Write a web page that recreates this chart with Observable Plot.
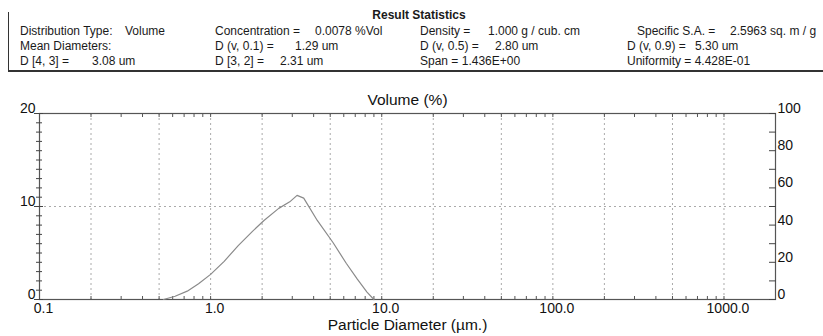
<!DOCTYPE html>
<html>
<head>
<meta charset="utf-8">
<script src="https://cdn.jsdelivr.net/npm/d3@7"></script>
<script src="https://cdn.jsdelivr.net/npm/@observablehq/plot@0.6"></script>
<style>
  html, body { margin: 0; padding: 0; background: #fff; }
  #wrap { position: relative; width: 823px; height: 336px; overflow: hidden; font-family: "Liberation Sans", Arial, sans-serif; color: #1a1a1a; }
  #header { position: absolute; left: 0; top: 0; width: 823px; height: 72px; }
  #header .box { position: absolute; left: 8px; top: 12px; width: 815px; height: 58px; border-left: 1.5px solid #333; border-bottom: 2px solid #333; }
  #header span { position: absolute; font-size: 12px; line-height: 14px; white-space: pre; }
  #header .title { font-weight: bold; transform: translateX(-50%); }
  #chart { position: absolute; left: 0; top: 72px; }
</style>
</head>
<body>
<div id="wrap">
  <div id="header"><div class="box"></div></div>
  <div id="chart"></div>
</div>
<script>
// ---- Data ----
const diameter = [0.53, 0.62, 0.73, 0.85, 1.0, 1.2, 1.45, 1.75, 2.05, 2.5, 2.9, 3.2, 3.5, 4.2, 5.2, 6.2, 7.2, 8.2, 9.0];
const volumePct = [0, 0.35, 0.9, 1.7, 2.7, 4.1, 5.8, 7.3, 8.5, 9.8, 10.5, 11.2, 10.9, 8.5, 6.1, 3.9, 2.2, 0.8, 0];

const xMajorTicks = [0.1, 1, 10, 100, 1000];
const xGridValues = [0.2, 0.5, 1, 2, 5, 10, 20, 50, 100, 200, 500, 1000];
const yLeftLabels = [0, 10, 20];
const yRightLabels = [0, 20, 40, 60, 80, 100];

const headerTitle = "Result Statistics";
const statLabels = [
  "Distribution Type:", "Concentration =", "Density =", "Specific S.A. =",
  "Mean Diameters:", "D (v, 0.1) =", "D (v, 0.5) =", "D (v, 0.9) =",
  "D [4, 3] =", "D [3, 2] =", "Span = 1.436E+00", "Uniformity = 4.428E-01"
];
const statValues = [
  "Volume", "0.0078 %Vol", "1.000 g / cub. cm", "2.5963 sq. m / g",
  "", "1.29 um", "2.80 um", "5.30 um",
  "3.08 um", "2.31 um", "", ""
];
const chartTitle = "Volume (%)";
const xLabel = "Particle Diameter (\u00b5m.)";

// ---- Header layout (positions only) ----
const labelX = [20, 215, 420, 637, 20, 215, 420, 627, 20, 215, 420, 627];
const valueX = [125, 315, 488, 730, 0, 295, 495, 695, 92, 280, 0, 0];
const rowTop = [24, 39, 54];
const header = document.getElementById("header");
const t = document.createElement("span");
t.className = "title"; t.textContent = headerTitle;
t.style.left = "419px"; t.style.top = "8px";
header.appendChild(t);
statLabels.forEach((lab, i) => {
  const r = Math.floor(i / 4);
  const s = document.createElement("span");
  s.textContent = lab; s.style.left = labelX[i] + "px"; s.style.top = rowTop[r] + "px";
  header.appendChild(s);
  if (statValues[i]) {
    const v = document.createElement("span");
    v.textContent = statValues[i]; v.style.left = valueX[i] + "px"; v.style.top = rowTop[r] + "px";
    header.appendChild(v);
  }
});

// ---- Chart ----
const data = diameter.map((d, i) => ({d, v: volumePct[i]}));
const minorTicks = d3.scaleLog().domain([0.1, 2000]).ticks();
const leftMinor = d3.range(0, 21);
const rightMinor = d3.range(0, 101, 10).map(v => v / 5);
const blank = () => "";

const chart = Plot.plot({
  width: 823,
  height: 264,
  marginTop: 41,
  marginBottom: 37,
  marginLeft: 39,
  marginRight: 48,
  style: {fontFamily: "'Liberation Sans', Arial, sans-serif", background: "transparent", color: "#111"},
  x: {type: "log", domain: [0.1, 2000]},
  y: {domain: [0, 20]},
  marks: [
    Plot.ruleX(xGridValues, {stroke: "#aaa", strokeWidth: 1, strokeDasharray: "2,3"}),
    Plot.ruleY([10], {stroke: "#aaa", strokeWidth: 1, strokeDasharray: "2,3"}),
    Plot.frame({stroke: "#555", strokeWidth: 1.2}),
    // minor x ticks on bottom and top lines (inward)
    Plot.axisX({anchor: "bottom", ticks: minorTicks, tickSize: 3, dy: -3, tickFormat: blank, label: null, stroke: "#555"}),
    Plot.axisX({anchor: "top", ticks: minorTicks, tickSize: 3, dy: 3, tickFormat: blank, label: null, stroke: "#555"}),
    // x labels
    Plot.axisX({anchor: "bottom", ticks: xMajorTicks, tickSize: 0, tickPadding: 4, dx: 4,
      tickFormat: d => d.toFixed(1), fontSize: 14, label: null}),
    // left axis ticks crossing the frame line
    Plot.axisY({anchor: "left", ticks: leftMinor, tickSize: 6, dx: 3, tickFormat: blank, label: null, stroke: "#444"}),
    Plot.axisY({anchor: "left", ticks: yLeftLabels, tickSize: 9, dx: 4, tickFormat: blank, label: null, stroke: "#444"}),
    Plot.axisY({anchor: "left", ticks: yLeftLabels, tickSize: 0, tickPadding: 4, dy: -5, fontSize: 14, label: null}),
    // right axis (0-100 scale mapped onto 0-20)
    Plot.axisY({anchor: "right", ticks: rightMinor, tickSize: 7, dx: -7, tickFormat: blank, label: null, stroke: "#444"}),
    Plot.axisY({anchor: "right", ticks: yRightLabels.map(v => v / 5), tickFormat: d => String(Math.round(d * 5)),
      tickSize: 0, tickPadding: 2, dy: -5, fontSize: 14, label: null}),
    // curve
    Plot.line(data, {x: "d", y: "v", stroke: "#8a8a8a", strokeWidth: 1.2}),
    // titles
    Plot.text([chartTitle], {frameAnchor: "top", dy: -20, fontSize: 15.5, fill: "#111"}),
    Plot.text([xLabel], {frameAnchor: "bottom", dy: 30, fontSize: 15.5, fill: "#111"})
  ]
});
document.getElementById("chart").appendChild(chart);
</script>
</body>
</html>
